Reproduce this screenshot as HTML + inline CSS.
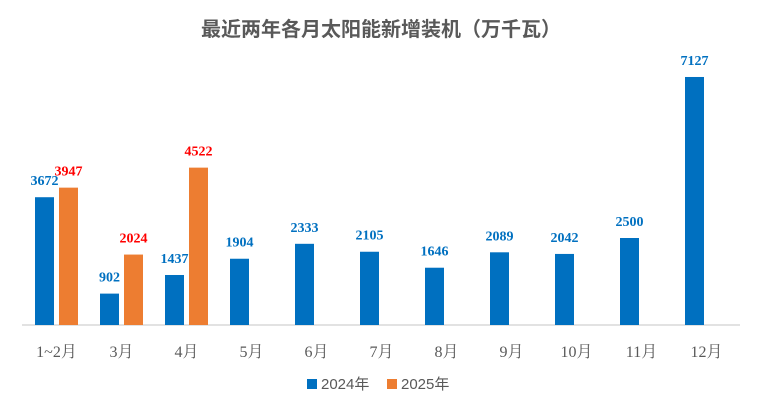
<!DOCTYPE html>
<html><head><meta charset="utf-8"><style>
body{margin:0;background:#fff;}
svg{display:block;}
</style></head><body>
<svg id="chart" width="762" height="418" xmlns="http://www.w3.org/2000/svg">
<text x="381" y="36" text-anchor="middle" font-family="'Liberation Sans','Noto Sans CJK SC',sans-serif" font-size="20" font-weight="bold" fill="#595959">最近两年各月太阳能新增装机（万千瓦）</text>
<line x1="22" y1="325" x2="740" y2="325" stroke="#d9d9d9" stroke-width="1.5"/>
<g id="bars"></g>
<g>
<rect x="307" y="379" width="10" height="10" fill="#0070c0"/>
<text x="321" y="389" font-family="'Liberation Sans','Noto Sans CJK SC',sans-serif" font-size="15" fill="#595959">2024年</text>
<rect x="387" y="379" width="10" height="10" fill="#ed7d31"/>
<text x="401" y="389" font-family="'Liberation Sans','Noto Sans CJK SC',sans-serif" font-size="15" fill="#595959">2025年</text>
</g>
</svg>
<script>
const categories = ["1~2月","3月","4月","5月","6月","7月","8月","9月","10月","11月","12月"];
const values2024 = [3672,902,1437,1904,2333,2105,1646,2089,2042,2500,7127];
const values2025 = [3947,2024,4522];
const NS="http://www.w3.org/2000/svg";
const g=document.getElementById('bars');
const baseY=325, k=0.0348, left=22, step=65, bw=19;
function xc(i){return left+step*(i+0.5);}
function yv(v){return baseY-v*k;}
function mk(tag,attrs){const e=document.createElementNS(NS,tag);for(const a in attrs)e.setAttribute(a,attrs[a]);g.appendChild(e);return e;}
categories.forEach((c,i)=>{
  const cx=xc(i);
  const t=mk('text',{x:cx+2,y:357,'text-anchor':'middle','font-family':"'Liberation Serif','Noto Serif CJK SC',serif",'font-size':16,fill:'#595959'});
  t.textContent=c;
  
  
  const v=values2024[i];
  const r=mk('rect',{x:cx-19.5,y:yv(v),width:bw,height:v*k,fill:'#0070c0'});
  
  
  const l=mk('text',{x:cx-10,y:yv(v)-12,'text-anchor':'middle','font-family':"'Liberation Serif',serif",'font-size':14,'font-weight':'bold',fill:'#0070c0'});
  l.textContent=v;
  
  
  if(i<values2025.length){
    const w=values2025[i];
    const r2=mk('rect',{x:cx+4.5,y:yv(w),width:bw,height:w*k,fill:'#ed7d31'});
    
    
    const l2=mk('text',{x:cx+14,y:yv(w)-12,'text-anchor':'middle','font-family':"'Liberation Serif',serif",'font-size':14,'font-weight':'bold',fill:'#ff0000'});
    l2.textContent=w;
    
    
  }
});
</script>
</body></html>
